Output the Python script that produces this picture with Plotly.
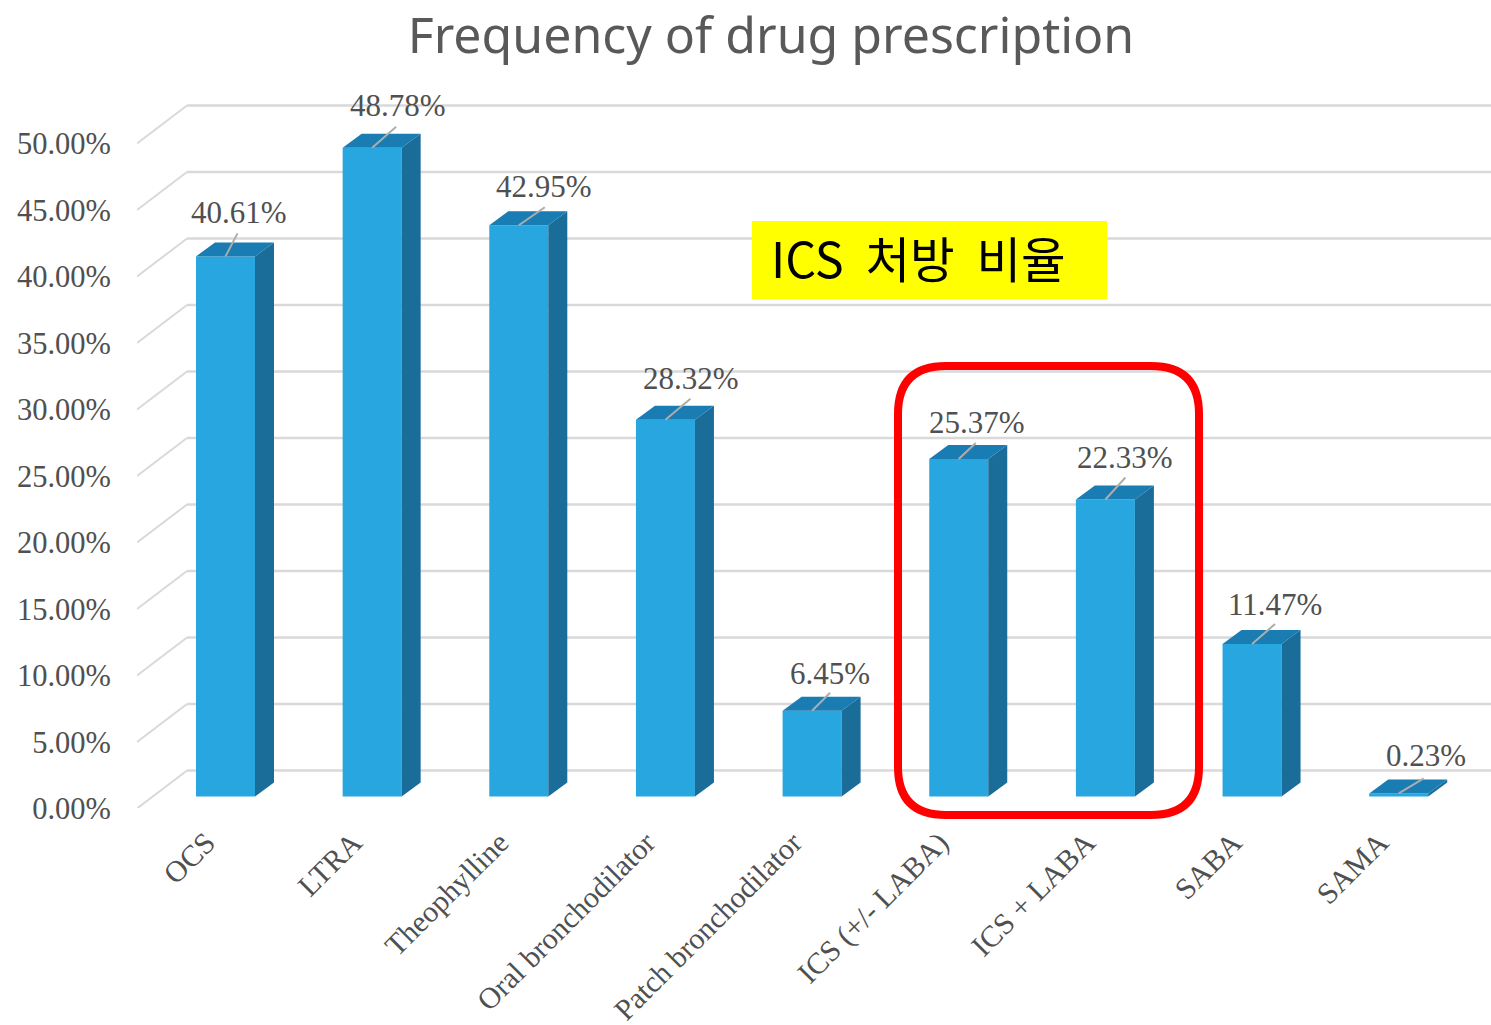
import plotly.graph_objects as go

categories = ["OCS", "LTRA", "Theophylline", "Oral bronchodilator", "Patch bronchodilator",
              "ICS (+/- LABA)", "ICS + LABA", "SABA", "SAMA"]
values = [40.61, 48.78, 42.95, 28.32, 6.45, 25.37, 22.33, 11.47, 0.23]
y_ticks = [0, 5, 10, 15, 20, 25, 30, 35, 40, 45, 50]
y_tick_labels = ["0.00%", "5.00%", "10.00%", "15.00%", "20.00%", "25.00%", "30.00%", "35.00%",
                 "40.00%", "45.00%", "50.00%"]
title_text = "Frequency of drug prescription"
callout_text = "ICS  처방  비율"

# layout constants
W, H = 1491, 1025
ML, MB = 137, 217
PX_X = 146.65      # px per category
PX_Y = 13.3        # px per percent
X0_PX = 225.5      # px position of first category
Y0_PX = 796.5      # px position of value zero
BAR_W = 59 / PX_X
DX, DY = 19 / PX_X, 14 / PX_Y
x_range = [(ML - X0_PX) / PX_X, (W - X0_PX) / PX_X]
y_range = [(Y0_PX - (H - MB)) / PX_Y, Y0_PX / PX_Y]

# per-label nudges, pixels
label_dx = [13, 26, 25, 26, 18, 18, 20, 23, 27]
label_dy = [44, 42, 39, 41, 37, 37, 42, 39, 38]
leader_dx = [12, 24, 26, 25, 18, 17, 20, 23, 25]
leader_dy = [23, 21, 18, 21, 18, 16, 22, 20, 15]

xs = list(range(len(categories)))
GRID = "#d9d9d9"
TXT = "#505050"
SERIF = "Liberation Serif"
SANS = "Noto Sans CJK KR"

fig = go.Figure()
fig.add_bar(x=xs, y=values, width=BAR_W, marker=dict(color="#27A6E0", line=dict(width=0)), hoverinfo="skip")

side_x, side_y, top_x, top_y = [], [], [], []
for x, v in zip(xs, values):
    r = x + BAR_W / 2
    l = x - BAR_W / 2
    side_x += [r, r + DX, r + DX, r, r, None]
    side_y += [0, DY, v + DY, v, 0, None]
    top_x += [l, l + DX, r + DX, r, l, None]
    top_y += [v, v + DY, v + DY, v, v, None]
for px_, py_, col in [(side_x, side_y, "#1A6C99"), (top_x, top_y, "#197CB2")]:
    fig.add_scatter(x=px_, y=py_, mode="lines", fill="toself", fillcolor=col,
                    line=dict(width=0, color=col), hoverinfo="skip")

lead_x, lead_y = [], []
for x, v, a, b in zip(xs, values, leader_dx, leader_dy):
    lead_x += [x, x + a / PX_X, None]
    lead_y += [v, v + b / PX_Y, None]
fig.add_scatter(x=lead_x, y=lead_y, mode="lines", line=dict(color="#adadad", width=2), hoverinfo="skip")

shapes = []
for t in y_ticks:
    y_f, y_b = t - 12 / PX_Y, t + 26 / PX_Y
    x_f, x_b = x_range[0], x_range[0] + 50 / PX_X
    shapes.append(dict(type="line", layer="below", xref="x", yref="y", x0=x_f, y0=y_f, x1=x_b, y1=y_b,
                       line=dict(color=GRID, width=2)))
    shapes.append(dict(type="line", layer="below", xref="x", yref="y", x0=x_b, y0=y_b, x1=x_range[1], y1=y_b,
                       line=dict(color=GRID, width=2.5)))


def px(p):
    return (p - ML) / (W - ML)


def py(p):
    return ((H - MB) - p) / (H - MB)


# yellow callout
shapes.append(dict(type="rect", layer="above", xref="paper", yref="paper",
                   x0=px(752), x1=px(1107), y0=py(299), y1=py(221),
                   fillcolor="#FFFF00", line=dict(width=0)))
# red rounded frame
L, R, T, B, C = 898, 1199, 366, 815, 48
path = (f"M {px(L + C)} {py(T)} L {px(R - C)} {py(T)} Q {px(R)} {py(T)} {px(R)} {py(T + C)} "
        f"L {px(R)} {py(B - C)} Q {px(R)} {py(B)} {px(R - C)} {py(B)} "
        f"L {px(L + C)} {py(B)} Q {px(L)} {py(B)} {px(L)} {py(B - C)} "
        f"L {px(L)} {py(T + C)} Q {px(L)} {py(T)} {px(L + C)} {py(T)} Z")
shapes.append(dict(type="path", layer="above", xref="paper", yref="paper", path=path,
                   line=dict(color="#FF0000", width=8), fillcolor="rgba(0,0,0,0)"))

annotations = []
for x, v, a, b in zip(xs, values, label_dx, label_dy):
    annotations.append(dict(x=x, y=v, xref="x", yref="y", text=f"{v:.2f}%", showarrow=False,
                            xshift=a, yshift=b, xanchor="center", yanchor="middle",
                            font=dict(family=SERIF, size=31, color=TXT)))
annotations.append(dict(x=px(769), y=py(257), xref="paper", yref="paper", text=callout_text, showarrow=False,
                        xanchor="left", yanchor="middle", font=dict(family=SANS, size=48.5, color="#000000")))

fig.update_layout(
    width=W, height=H, autosize=False,
    margin=dict(l=ML, r=0, t=0, b=MB, pad=0),
    paper_bgcolor="white", plot_bgcolor="white",
    showlegend=False,
    title=dict(text=title_text, x=771 / W, xref="container", xanchor="center",
               y=1 - 35 / H, yref="container", yanchor="middle",
               font=dict(family="Noto Sans", size=50, color="#595959")),
    xaxis=dict(range=x_range, tickmode="array", tickvals=xs, ticktext=categories, tickangle=-45,
               showgrid=False, zeroline=False, showline=False, ticks="", automargin=False,
               tickfont=dict(family=SERIF, size=30, color=TXT), ticklabelstandoff=10, ticklabelshift=-19),
    yaxis=dict(range=y_range, tickmode="array", tickvals=y_ticks, ticktext=y_tick_labels,
               showgrid=False, zeroline=False, showline=False, ticks="", automargin=False,
               ticklabelstandoff=25, ticklabelshift=12,
               tickfont=dict(family=SERIF, size=30.5, color=TXT)),
    shapes=shapes, annotations=annotations,
)

fig.write_html("out.html", config=dict(displayModeBar=False),
               post_script="document.body.style.margin='0';document.body.style.overflow='hidden';")
